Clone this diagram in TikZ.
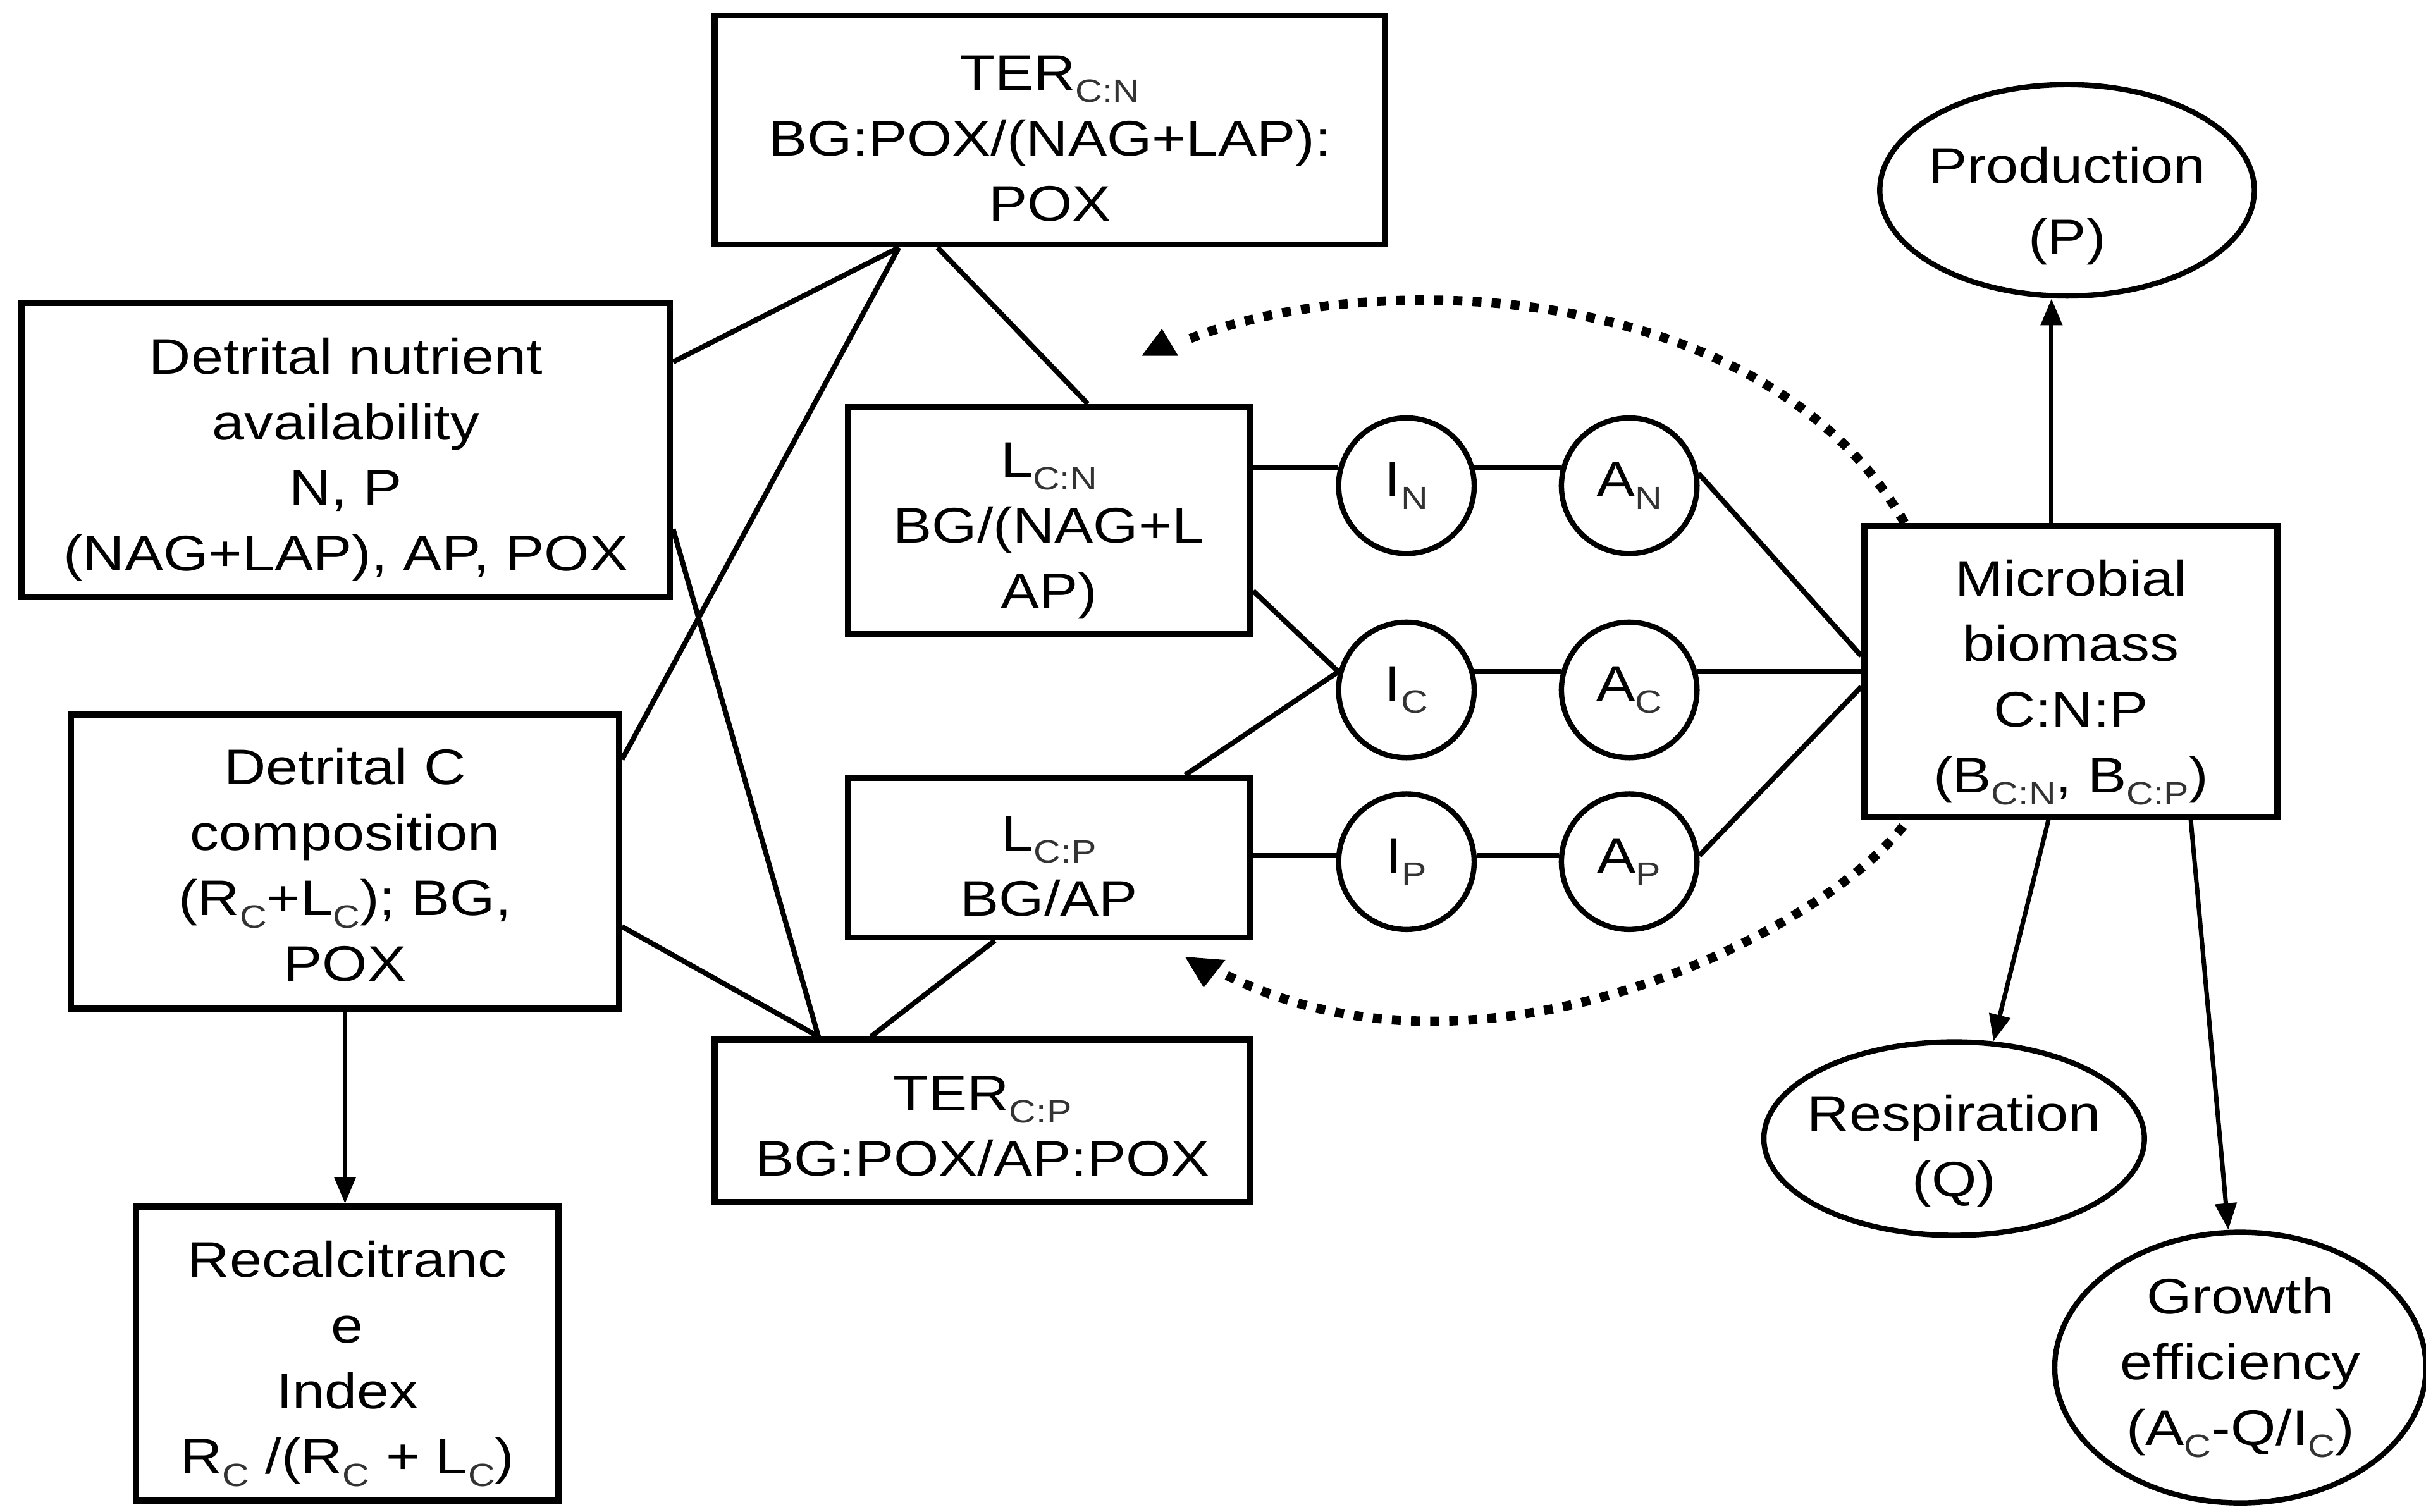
\documentclass[tikz,border=0pt]{standalone}
\usepackage{fontspec}
\setmainfont{Liberation Sans}[FakeStretch=1.16]
\usetikzlibrary{shapes.geometric,calc,arrows.meta}

\newcommand{\sbs}[1]{\raisebox{-5.5pt}{\fontsize{14.5pt}{14.5pt}\selectfont\color{black!80}#1}}
\newcommand{\lowr}[1]{\rule{0pt}{\dimexpr 16.3pt + #1pt\relax}}

\begin{document}
\begin{tikzpicture}[x=0.6961pt,y=-0.6961pt,
  every node/.style={font=\fontsize{22.5pt}{29.5pt}\selectfont, align=center, inner sep=0pt},
  box/.style={draw, line width=2.8pt, rectangle},
  circ/.style={draw, line width=2.4pt, circle, minimum size=61pt},
  oval/.style={draw, line width=2.4pt, ellipse, inner xsep=-6pt, inner ysep=0pt},
  con/.style={line width=2.3pt},
  arr/.style={line width=2pt, -{Triangle[length=12pt,width=9.5pt]}},
  dots/.style={line width=4.2pt, dash pattern=on 4pt off 4.6pt},
  tip/.style={fill=black}
]
\useasboundingbox (0,0) rectangle (1568,977);
\fill[white] (0,0) rectangle (1568,977);

% boxes
\node[box, minimum width=301.4pt, minimum height=103pt] (tercn) at (678.5,84) {\lowr{7}TER\sbs{C:N}\\BG:POX/(NAG+LAP):\\POX};
\node[box, minimum width=291.7pt, minimum height=132.3pt] (dn) at (223.5,291) {\lowr{8.4}Detrital nutrient\\availability\\N, P\\(NAG+LAP), AP, POX};
\node[box, minimum width=246.4pt, minimum height=132.3pt] (dc) at (223,557) {\lowr{2.8}Detrital C\\composition\\(R\sbs{C}+L\sbs{C}); BG,\\POX};
\node[box, minimum width=190pt, minimum height=132.3pt] (rec) at (224.5,875) {\lowr{9}Recalcitranc\\e\\Index\\R\sbs{C} /(R\sbs{C} + L\sbs{C})};
\node[box, minimum width=181pt, minimum height=102.3pt] (lcn) at (678,336.5) {\lowr{8.4}L\sbs{C:N}\\BG/(NAG+L\\AP)};
\node[box, minimum width=181pt, minimum height=71.7pt] (lcp) at (678,554.5) {\lowr{7}L\sbs{C:P}\\BG/AP};
\node[box, minimum width=240.9pt, minimum height=73.1pt] (tercp) at (635,724.5) {\lowr{4.2}TER\sbs{C:P}\\BG:POX/AP:POX};
\node[box, minimum width=185.9pt, minimum height=130.9pt] (mb) at (1338.5,434) {\lowr{9.7}Microbial\\biomass\\C:N:P\\(B\sbs{C:N}, B\sbs{C:P})};

% circles
\node[circ] (in) at (909,314) {I\sbs{N}};
\node[circ] (an) at (1053,314) {A\sbs{N}};
\node[circ] (ic) at (909,446) {I\sbs{C}};
\node[circ] (ac) at (1053,446) {A\sbs{C}};
\node[circ] (ip) at (909,557) {I\sbs{P}};
\node[circ] (ap) at (1053,557) {A\sbs{P}};

% ellipses
\node[oval, minimum width=168.5pt, minimum height=79.4pt] (prod) at (1336,123) {\lowr{14}Production\\[2.8pt](P)};
\node[oval, minimum width=171.2pt, minimum height=78pt] (resp) at (1263,736) {\lowr{11.1}Respiration\\(Q)};
\node[oval, minimum width=167pt, minimum height=121.8pt] (grow) at (1448,884) {Growth\\efficiency\\(A\sbs{C}-Q/I\sbs{C})};

% junction points
\coordinate (t1) at ($(tercn.south west)+(121,0)$);
\coordinate (t2) at ($(tercn.south west)+(146,0)$);
\coordinate (b1) at ($(tercp.north west)+(69,0)$);
\coordinate (b2) at ($(tercp.north west)+(103,0)$);

% left connectors
\draw[con] ($(dn.north east)+(0,40)$) -- (t1);
\draw[con] ($(dn.north east)+(0,148)$) -- (b1);
\draw[con] ($(dc.north east)+(0,31)$) -- (t1);
\draw[con] ($(dc.north east)+(0,139)$) -- (b1);
\draw[con] (t2) -- ($(lcn.north west)+(157,0)$);
\draw[con] (b2) -- ($(lcp.south west)+(97,0)$);
\draw[arr] (dc.south) -- (dc.south |- rec.north);

% middle connectors
\draw[con] (in.165 -| lcn.east) -- (in.165);
\draw[con] (in.15) -- (an.165);
\draw[con] ($(lcn.north east)+(0,121)$) -- (ic.165);
\draw[con] ($(lcp.north west)+(220,0)$) -- (ic.165);
\draw[con] (ic.15) -- (ac.165);
\draw[con] (ip.175 -| lcp.east) -- (ip.175);
\draw[con] (ip.5) -- (ap.175);
\draw[con] (an.10) -- ($(mb.north west)+(0,86)$);
\draw[con] (ac.15) -- (ac.15 -| mb.west);
\draw[con] (ap.5) -- ($(mb.north west)+(0,106)$);

% right arrows
\coordinate (m1) at ($(mb.north west)+(123,0)$);
\draw[arr] (m1) -- (m1 |- prod.south);
\draw[arr] ($(mb.south west)+(121,0)$) -- (resp.68);
\draw[arr] ($(mb.south west)+(213,0)$) -- (grow.95);

% dotted feedback arcs
\coordinate (ta) at (764,221);
\coordinate (ba) at (792,630);
\draw[dots] ($(mb.north west)+(28,0)$) .. controls (1140,178) and (880,172) .. (ta);
\fill[tip] (738,230) -- (761.5,230) -- (751,212.6) -- cycle;
\draw[dots] ($(mb.south west)+(27,4)$) .. controls (1180,600) and (960,715) .. (ba);
\fill[tip] (766,618.5) -- (792,620.5) -- (778,638.4) -- cycle;
\end{tikzpicture}
\end{document}
